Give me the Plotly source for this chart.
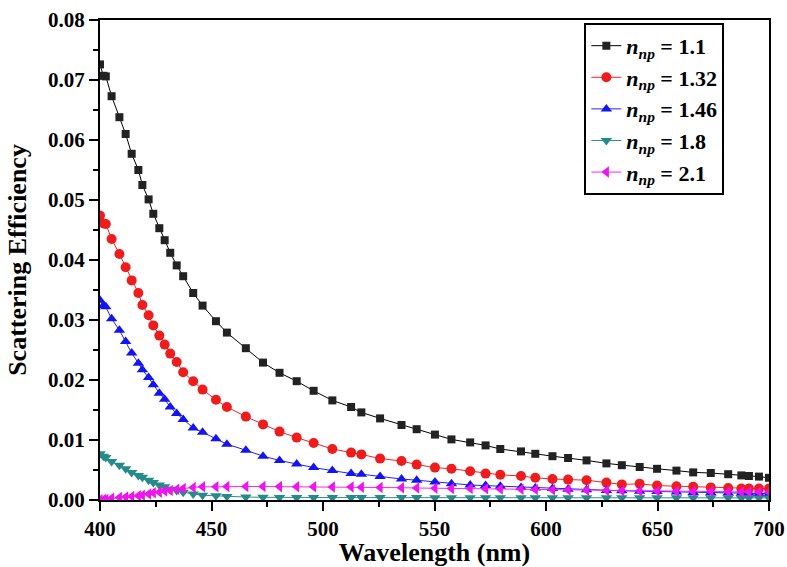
import plotly.graph_objects as go

wavelength = [400.0, 401.5, 402.6, 405.2, 408.7, 411.5, 414.2, 417.2, 419.0, 421.8,
              423.9, 426.6, 429.0, 431.5, 434.4, 437.3, 441.8, 446.0, 452.0, 456.9,
              465.4, 473.1, 480.5, 488.2, 495.8, 504.2, 512.6, 517.2, 525.6, 535.2,
              542.0, 550.2, 557.6, 566.0, 572.9, 579.5, 588.8, 595.2, 602.9, 609.9,
              618.2, 627.1, 634.0, 642.0, 649.8, 658.5, 666.0, 673.9, 681.7, 687.6,
              691.0, 695.5, 700.0]

q_11 = [0.0726, 0.0707, 0.0706, 0.0673, 0.0638, 0.0610, 0.0577, 0.0550, 0.0525, 0.0501,
        0.0477, 0.0453, 0.0433, 0.0412, 0.0391, 0.0373, 0.0345, 0.0324, 0.0298, 0.0279,
        0.0253, 0.0229, 0.0212, 0.0198, 0.0182, 0.0166, 0.0155, 0.0146, 0.0136, 0.0125,
        0.0118, 0.0109, 0.0101, 0.0096, 0.0091, 0.0085, 0.0081, 0.0077, 0.0073, 0.0070,
        0.0066, 0.0061, 0.0058, 0.0055, 0.0052, 0.0049, 0.0046, 0.0045, 0.0043, 0.0041,
        0.0040, 0.0039, 0.0037]

q_132 = [0.0474, 0.0461, 0.0460, 0.0435, 0.0410, 0.0388, 0.0366, 0.0345, 0.0325, 0.0308,
         0.0291, 0.0274, 0.0259, 0.0244, 0.0230, 0.0213, 0.0198, 0.0184, 0.0167, 0.0155,
         0.0139, 0.0126, 0.0114, 0.0104, 0.0095, 0.0085, 0.0079, 0.0076, 0.0069, 0.0065,
         0.0059, 0.0054, 0.0052, 0.0048, 0.0044, 0.0042, 0.0040, 0.0037, 0.0035, 0.0034,
         0.0033, 0.0029, 0.0026, 0.0027, 0.0024, 0.0023, 0.0022, 0.0021, 0.0020, 0.0019,
         0.0019, 0.0019, 0.0019]

q_146 = [0.0333, 0.0324, 0.0322, 0.0302, 0.0283, 0.0264, 0.0245, 0.0228, 0.0217, 0.0204,
         0.0192, 0.0178, 0.0168, 0.0155, 0.0144, 0.0134, 0.0120, 0.0113, 0.0102, 0.0093,
         0.0083, 0.0073, 0.0066, 0.0060, 0.0054, 0.0049, 0.0044, 0.0043, 0.0039, 0.0035,
         0.0033, 0.0030, 0.0027, 0.0025, 0.0024, 0.0023, 0.0021, 0.0020, 0.0019, 0.0018,
         0.0017, 0.0016, 0.00153, 0.00147, 0.0014, 0.00133, 0.00127, 0.00122, 0.00117, 0.00113,
         0.00111, 0.00109, 0.00106]

q_18 = [0.0077, 0.0073, 0.0071, 0.0064, 0.0058, 0.0052, 0.0046, 0.0041, 0.0038, 0.0033,
        0.0029, 0.0025, 0.0022, 0.0018, 0.0016, 0.0013, 0.0010, 0.0008, 0.0007, 0.0006,
        0.0005, 0.00045, 0.00042, 0.00040, 0.00040, 0.00040, 0.00040, 0.00040, 0.00040, 0.00040,
        0.00040, 0.00039, 0.00039, 0.00039, 0.00039, 0.00039, 0.00038, 0.00038, 0.00038, 0.00038,
        0.00038, 0.00037, 0.00037, 0.00037, 0.00037, 0.00036, 0.00036, 0.00036, 0.00036, 0.00035,
        0.00035, 0.00035, 0.00035]

q_21 = [0.00005, 0.0001, 0.0001, 0.0003, 0.0004, 0.0005, 0.0006, 0.0007, 0.0008, 0.0010,
        0.0012, 0.0013, 0.0015, 0.0016, 0.0018, 0.0019, 0.0021, 0.0022, 0.0022, 0.00225,
        0.00225, 0.00224, 0.00223, 0.00222, 0.0022, 0.00218, 0.00215, 0.00213, 0.0021, 0.00205,
        0.0020, 0.00197, 0.00193, 0.0019, 0.00186, 0.00183, 0.00178, 0.00174, 0.0017, 0.00166,
        0.00162, 0.00158, 0.00155, 0.00152, 0.00149, 0.00146, 0.00143, 0.0014, 0.00137, 0.00135,
        0.00134, 0.00132, 0.0013]

series = [
    ("1.1", q_11, "#000000", "#222222", "square", 8),
    ("1.32", q_132, "#ff2020", "#ee1c1c", "circle", 10),
    ("1.46", q_146, "#2020ff", "#1414ee", "triangle-up", 10),
    ("1.8", q_18, "#2a9090", "#248a8a", "triangle-down", 10),
    ("2.1", q_21, "#ff20ff", "#ee14ee", "triangle-left", 10),
]

FONT = "Liberation Serif, Times New Roman, serif"

fig = go.Figure()
for label, ys, lc, mc, sym, ms in series:
    fig.add_trace(go.Scatter(
        x=wavelength, y=ys, mode="lines+markers",
        name="<b><i>n</i><sub><i>np</i></sub> = " + label + "</b>",
        line=dict(color=lc, width=1),
        marker=dict(symbol=sym, size=ms, color=mc, line=dict(width=0)),
    ))

fig.update_layout(
    width=787, height=567,
    margin=dict(l=100, r=18, t=20, b=67),
    paper_bgcolor="white", plot_bgcolor="white",
    font=dict(family=FONT, size=20, color="black"),
    showlegend=True,
    legend=dict(
        x=0.724, y=0.994, xanchor="left", yanchor="top",
        bordercolor="black", borderwidth=2, bgcolor="rgba(255,255,255,0.9)",
        font=dict(family=FONT, size=22, color="black"),
        tracegroupgap=0,
    ),
)

fig.update_xaxes(
    range=[400, 700], tickvals=[400, 450, 500, 550, 600, 650, 700],
    automargin=False,
    ticks="outside", ticklen=9, tickwidth=1.5, tickcolor="black",
    minor=dict(ticks="outside", ticklen=5, tickwidth=1.5, tickcolor="black", dtick=25),
    showline=True, linewidth=2, linecolor="black", mirror=True,
    showgrid=False, zeroline=False,
    tickfont=dict(family=FONT, size=21, color="black", weight="bold"),
    title=dict(text="<b>Wavelength (nm)</b>", font=dict(family=FONT, size=26, color="black"), standoff=10),
)
fig.update_yaxes(
    range=[0, 0.08], tickvals=[0, 0.01, 0.02, 0.03, 0.04, 0.05, 0.06, 0.07, 0.08],
    tickformat=".2f", automargin=False,
    ticks="outside", ticklen=9, tickwidth=1.5, tickcolor="black",
    minor=dict(ticks="outside", ticklen=5, tickwidth=1.5, tickcolor="black", dtick=0.005),
    showline=True, linewidth=2, linecolor="black", mirror=True,
    showgrid=False, zeroline=False,
    tickfont=dict(family=FONT, size=21, color="black", weight="bold"),
    title=dict(text="<b>Scattering Efficiency</b>", font=dict(family=FONT, size=26, color="black"), standoff=14),
)

fig.write_html("out.html")
